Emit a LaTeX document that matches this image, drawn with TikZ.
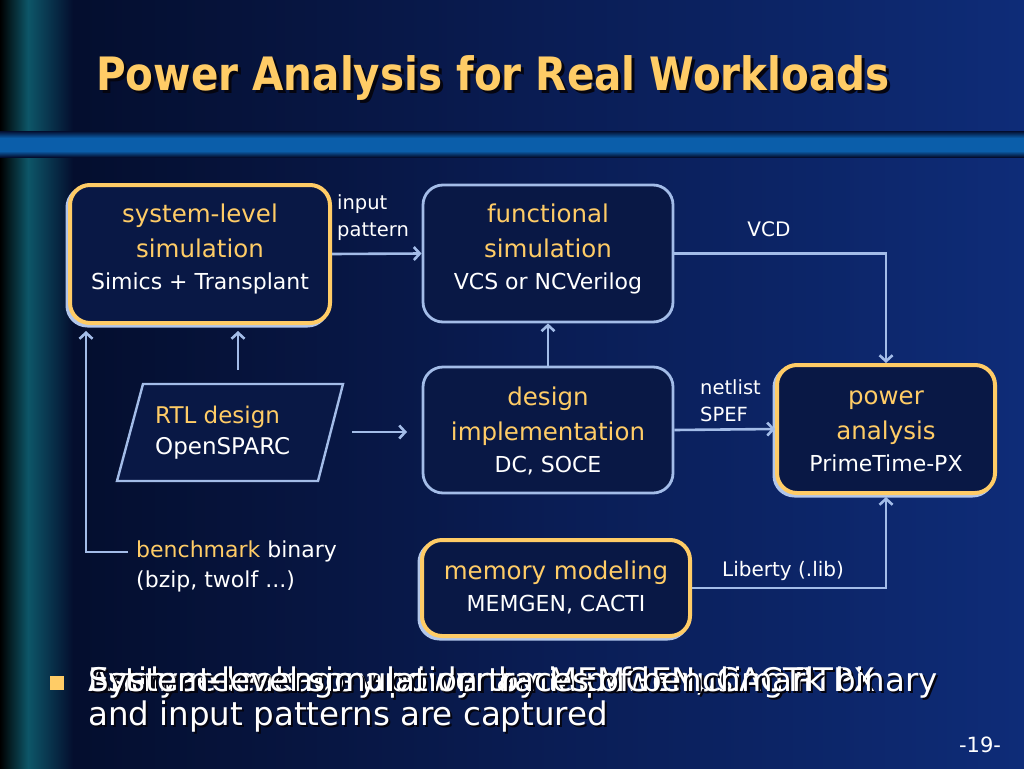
\documentclass[tikz,border=0pt]{standalone}
\usepackage{fontspec}
\setmainfont{DejaVu Sans}
\newfontfamily\titlefont{DejaVu Sans Bold}[FakeStretch=0.88]
\usetikzlibrary{arrows.meta,calc}
\definecolor{navy}{HTML}{0A1D55}
\definecolor{navydark}{HTML}{040E2E}
\definecolor{navylight}{HTML}{0E2C78}
\definecolor{tealc}{HTML}{0D5668}
\definecolor{barc}{HTML}{0B5EAA}
\definecolor{ylw}{HTML}{FFCC66}
\definecolor{lblue}{HTML}{A3BCE8}
\definecolor{boxfill}{HTML}{091845}
\definecolor{shadowc}{HTML}{050510}
\newcommand{\yl}[1]{{\color{ylw}#1}}
\newcommand{\subl}[1]{{\fontsize{22}{30}\selectfont #1}}
\tikzset{
  conn/.style={draw=lblue, line width=2.6pt, -{Straight Barb[length=6pt,width=13pt]}},
  boxbase/.style={rounded corners=20pt, fill=boxfill, inner sep=0pt},
  ybox/.style={boxbase, draw=ylw, line width=4pt,
     preaction={draw=lblue!85, line width=4pt, transform canvas={shift={(-2.5pt,-2.5pt)}}}},
  bbox/.style={boxbase, draw=lblue, line width=2.8pt},
  txt/.style={align=center, text=white, font=\fontsize{24.5}{35}\selectfont, inner sep=0pt},
  lab/.style={align=left, text=white, font=\fontsize{19.5}{27}\selectfont, inner sep=0pt},
}
\begin{document}
\begin{tikzpicture}[x=1pt,y=-1pt]
\useasboundingbox (0,0) rectangle (1024,768);
% background
\fill[navy] (0,0) rectangle (1024,768);
\shade[left color=navydark, right color=navy] (73,0) rectangle (560,768);
\shade[left color=navy, right color=navylight] (560,0) rectangle (1024,768);
\shade[left color=black, right color=tealc] (0,0) rectangle (28,768);
\shade[left color=tealc, right color=navydark] (28,0) rectangle (73,768);
\shade[top color=navydark, bottom color=barc] (0,131) rectangle (1024,138);
\fill[barc] (0,138) rectangle (1024,151);
\shade[top color=barc, bottom color=navydark] (0,151) rectangle (1024,157);
% title
\node[anchor=west, text=shadowc, font=\titlefont\fontsize{46}{52}\selectfont, inner sep=0pt] (titlesh) at (99,81) {Power Analysis for Real Workloads};
\node[anchor=west, text=ylw, font=\titlefont\fontsize{46}{52}\selectfont, inner sep=0pt] (title) at (96,78) {Power Analysis for Real Workloads};
% boxes
\node[ybox, minimum width=260pt, minimum height=138pt] (sys) at (200,254) {};
\node[txt] (syst) at (200,249) {\yl{system-level}\\\yl{simulation}\\[-3pt]\subl{Simics + Transplant}};
\node[bbox, minimum width=250pt, minimum height=137pt] (fun) at (548,253.5) {};
\node[txt] (funt) at (548,249) {\yl{functional}\\\yl{simulation}\\[-3pt]\subl{VCS or NCVerilog}};
\node[bbox, minimum width=250pt, minimum height=126pt] (des) at (548,430) {};
\node[txt] (dest) at (548,431) {\yl{design}\\\yl{implementation}\\[-3pt]\subl{DC, SOCE}};
\node[ybox, minimum width=218pt, minimum height=128pt] (pow) at (886,429) {};
\node[txt] (powt) at (886,431) {\yl{power}\\\yl{analysis}\\[-3pt]\subl{PrimeTime-PX}};
\node[ybox, minimum width=268pt, minimum height=96pt] (mem) at (556,588) {};
\node[txt] (memt) at (556,587) {\yl{memory modeling}\\[-3pt]\subl{MEMGEN, CACTI}};
% RTL parallelogram
\draw[draw=lblue, line width=2.4pt, fill=boxfill] (143,384) -- (343,384) -- (318,481) -- (117,481) -- cycle;
\node[anchor=west, align=left, text=white, font=\fontsize{23}{31}\selectfont, inner sep=0pt] (rtl) at (155,433) {\yl{RTL design}\\OpenSPARC};
% connectors
\draw[conn] (sys.east) -- (fun.west);
\draw[conn] (fun.east) -| (pow.north);
\draw[conn] (des.north) -- (fun.south);
\draw[conn] (des.east) -- (pow.west);
\draw[conn, shorten >=2pt] (mem.east) -| (pow.south);
\coordinate (rtlup) at (238,370);
\draw[conn, shorten >=6pt] (rtlup) -- (rtlup |- sys.south);
\coordinate (rtlr1) at (352,432);
\coordinate (rtlr2) at (407,432);
\draw[conn] (rtlr1) -- (rtlr2);
\coordinate (bmstart) at (128,552);
\coordinate (bmcorner) at (86,552);
\draw[conn, shorten >=6pt] (bmstart) -- (bmcorner) -- (bmcorner |- sys.south);
% labels
\node[lab, anchor=west] (linput) at (337,217.5) {input\\pattern};
\node[lab, font=\fontsize{20}{27}\selectfont] (lvcd) at (769,229) {VCD};
\node[lab, anchor=west] (lnet) at (700,400.5) {netlist\\SPEF};
\node[lab, anchor=west, font=\fontsize{20}{27}\selectfont] (llib) at (722,571) {Liberty (.lib)};
\node[lab, anchor=west, font=\fontsize{22}{30}\selectfont] (lbench) at (136,566) {\yl{benchmark} binary\\(bzip, twolf ...)};
% bullet
\node[fill=ylw, minimum size=14pt, inner sep=0pt] (bullet) at (57,683) {};
\begin{scope}[every node/.style={anchor=west, inner sep=0pt, font=\fontsize{32.5}{36}\selectfont}]
\node[text=shadowc] (b1s) at (90,685) {Analyze leakage and dynamic power using PTPX};
\node[text=white] (b1) at (88,683) {Analyze leakage and dynamic power using PTPX};
\node[text=shadowc] (b2s) at (90,685) {Estimate memory power by MEMGEN, CACTI};
\node[text=white] (b2) at (88,683) {Estimate memory power by MEMGEN, CACTI};
\node[text=shadowc] (b3s) at (90,685) {System-level simulation traces of benchmark binary};
\node[text=white] (b3) at (88,683) {System-level simulation traces of benchmark binary};
\node[text=shadowc] (b4s) at (90,719) {and input patterns are captured};
\node[text=white] (b4) at (88,717) {and input patterns are captured};
\end{scope}
\node[text=white, font=\fontsize{21}{24}\selectfont, inner sep=0pt] (pnum) at (980,745) {-19-};
\end{tikzpicture}
\end{document}
